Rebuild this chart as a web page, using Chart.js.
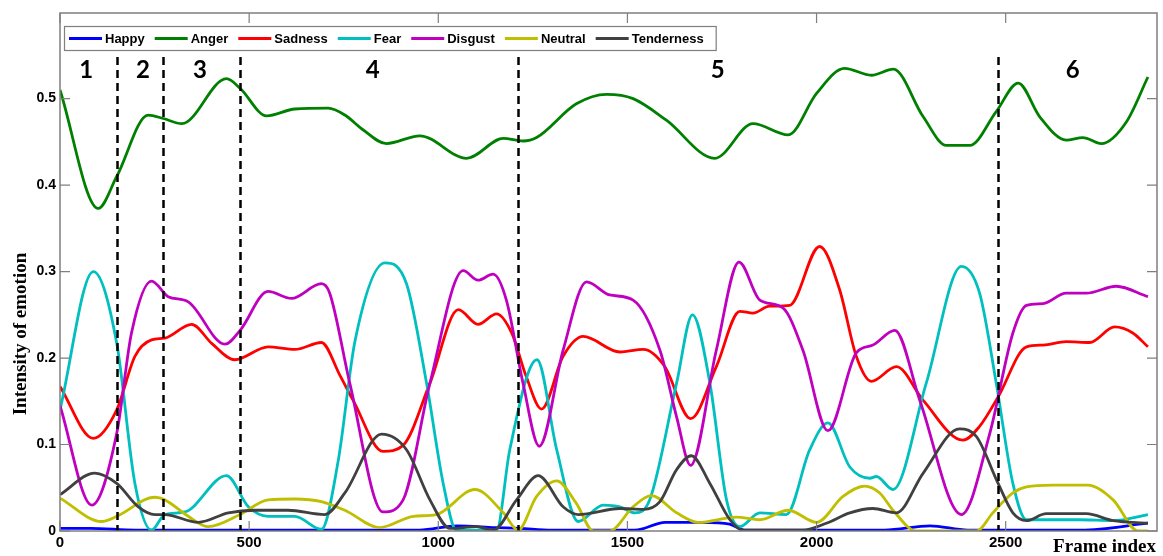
<!DOCTYPE html>
<html>
<head>
<meta charset="utf-8">
<script src="https://cdn.jsdelivr.net/npm/chart.js@4.4.1/dist/chart.umd.min.js"></script>
<style>
  html, body { margin: 0; padding: 0; background: #ffffff; }
  #wrap { width: 1163px; height: 556px; }
</style>
</head>
<body>
<div id="wrap"><canvas id="emotionChart" width="1163" height="556"></canvas></div>
<script>
// Emotion intensity per frame

const happyX = [0, 80, 200, 950, 1050, 1150, 1215, 1300, 1520, 1600, 1700, 1770, 1810, 2180, 2300, 2400, 2700, 2876];
const happyY = [0.003, 0.003, 0.001, 0.001, 0.006, 0.004, 0.003, 0.001, 0.001, 0.010, 0.010, 0.008, 0.001, 0.001, 0.006, 0.001, 0.001, 0.009];

const angerX = [0, 101, 150, 233, 273, 322, 440, 476, 546, 621, 709, 753, 801, 863, 951, 1075, 1172, 1224, 1260, 1365, 1445, 1515, 1603, 1731, 1832, 1925, 2000, 2074, 2145, 2203, 2282, 2343, 2405, 2475, 2533, 2590, 2660, 2704, 2753, 2819, 2876];
const angerY = [0.510, 0.373, 0.410, 0.481, 0.477, 0.471, 0.523, 0.512, 0.480, 0.488, 0.489, 0.481, 0.464, 0.448, 0.457, 0.431, 0.454, 0.451, 0.455, 0.494, 0.505, 0.500, 0.475, 0.431, 0.471, 0.458, 0.506, 0.535, 0.527, 0.534, 0.479, 0.446, 0.446, 0.485, 0.518, 0.479, 0.452, 0.455, 0.448, 0.473, 0.525];

const sadnessX = [0, 88, 150, 198, 242, 277, 348, 401, 462, 550, 621, 691, 740, 775, 854, 907, 978, 1053, 1105, 1154, 1194, 1233, 1273, 1330, 1383, 1480, 1542, 1599, 1667, 1735, 1797, 1832, 1876, 1929, 2008, 2061, 2105, 2145, 2211, 2282, 2387, 2431, 2480, 2555, 2599, 2660, 2722, 2788, 2836, 2876];
const sadnessY = [0.167, 0.107, 0.140, 0.202, 0.221, 0.223, 0.239, 0.217, 0.198, 0.213, 0.210, 0.218, 0.180, 0.151, 0.092, 0.099, 0.171, 0.256, 0.239, 0.251, 0.229, 0.178, 0.141, 0.202, 0.225, 0.207, 0.210, 0.190, 0.130, 0.190, 0.254, 0.252, 0.260, 0.261, 0.329, 0.279, 0.202, 0.173, 0.190, 0.151, 0.105, 0.121, 0.155, 0.213, 0.215, 0.219, 0.218, 0.236, 0.229, 0.213];

const fearX = [0, 88, 150, 198, 242, 277, 330, 440, 498, 550, 621, 691, 735, 780, 859, 916, 969, 1013, 1048, 1154, 1189, 1261, 1313, 1370, 1436, 1480, 1520, 1559, 1630, 1672, 1718, 1762, 1797, 1850, 1920, 1982, 2030, 2088, 2141, 2158, 2202, 2290, 2383, 2431, 2475, 2519, 2555, 2695, 2784, 2876];
const fearY = [0.140, 0.300, 0.217, 0.055, 0.001, 0.019, 0.022, 0.064, 0.028, 0.017, 0.017, 0.002, 0.080, 0.220, 0.310, 0.286, 0.171, 0.055, 0.001, 0.001, 0.094, 0.198, 0.094, 0.011, 0.030, 0.028, 0.021, 0.036, 0.171, 0.250, 0.171, 0.036, 0.005, 0.021, 0.019, 0.094, 0.125, 0.074, 0.061, 0.063, 0.048, 0.171, 0.306, 0.275, 0.171, 0.055, 0.013, 0.013, 0.012, 0.019];

const disgustX = [0, 84, 150, 189, 242, 286, 339, 436, 476, 550, 612, 691, 713, 766, 854, 907, 978, 1066, 1105, 1145, 1180, 1224, 1267, 1330, 1392, 1453, 1515, 1586, 1630, 1667, 1735, 1795, 1850, 1911, 1964, 2030, 2105, 2149, 2207, 2273, 2383, 2458, 2519, 2555, 2599, 2660, 2713, 2792, 2876];
const disgustY = [0.145, 0.030, 0.113, 0.229, 0.289, 0.271, 0.265, 0.216, 0.232, 0.277, 0.269, 0.286, 0.275, 0.171, 0.022, 0.036, 0.171, 0.301, 0.290, 0.297, 0.267, 0.171, 0.098, 0.209, 0.288, 0.273, 0.267, 0.209, 0.132, 0.076, 0.209, 0.311, 0.267, 0.258, 0.209, 0.116, 0.206, 0.215, 0.232, 0.151, 0.019, 0.113, 0.229, 0.261, 0.263, 0.275, 0.275, 0.283, 0.271];

const neutralX = [0, 110, 150, 251, 277, 339, 392, 476, 550, 621, 691, 753, 846, 934, 995, 1097, 1172, 1211, 1260, 1313, 1365, 1410, 1453, 1515, 1563, 1630, 1687, 1788, 1850, 1925, 2000, 2070, 2127, 2167, 2202, 2264, 2423, 2466, 2519, 2555, 2625, 2717, 2784, 2850, 2876];
const neutralY = [0.038, 0.011, 0.017, 0.039, 0.036, 0.017, 0.005, 0.019, 0.036, 0.037, 0.034, 0.024, 0.004, 0.017, 0.019, 0.048, 0.021, 0.001, 0.040, 0.058, 0.032, 0.000, 0.000, 0.028, 0.041, 0.021, 0.010, 0.016, 0.013, 0.024, 0.010, 0.040, 0.052, 0.044, 0.024, 0.000, 0.000, 0.021, 0.044, 0.051, 0.053, 0.053, 0.036, 0.000, 0.000];

const tenderX = [0, 92, 150, 207, 251, 277, 366, 445, 515, 603, 700, 753, 850, 916, 978, 1031, 1101, 1145, 1207, 1264, 1330, 1370, 1480, 1542, 1586, 1630, 1669, 1718, 1771, 1806, 1964, 2026, 2088, 2149, 2211, 2282, 2378, 2423, 2480, 2519, 2555, 2607, 2713, 2784, 2876];
const tenderY = [0.042, 0.067, 0.055, 0.028, 0.019, 0.019, 0.010, 0.021, 0.024, 0.024, 0.019, 0.044, 0.112, 0.094, 0.036, 0.003, 0.005, 0.001, 0.036, 0.064, 0.028, 0.019, 0.026, 0.025, 0.034, 0.071, 0.087, 0.055, 0.013, 0.001, 0.001, 0.009, 0.021, 0.026, 0.021, 0.067, 0.118, 0.109, 0.055, 0.021, 0.012, 0.020, 0.020, 0.012, 0.009];

const seriesNames = ['Happy', 'Anger', 'Sadness', 'Fear', 'Disgust', 'Neutral', 'Tenderness'];
const seriesColors = ['#0000ff', '#008000', '#ff0000', '#00bfbf', '#bf00bf', '#bfbf00', '#404040'];
const seriesX = [happyX, angerX, sadnessX, fearX, disgustX, neutralX, tenderX];
const seriesY = [happyY, angerY, sadnessY, fearY, disgustY, neutralY, tenderY];

const xTicks = [0, 500, 1000, 1500, 2000, 2500];
const yTicks = [0, 0.1, 0.2, 0.3, 0.4, 0.5];

// segment boundaries (frames) and segment numbers
const segmentBounds = [151, 272, 476, 1210, 2479];
const segmentLabels = ['1', '2', '3', '4', '5', '6'];
const segmentCenters = [69, 219, 370, 827, 1739, 2677];

const AXIS_GRAY = '#7f7f7f';
const TICK_FONT = 'bold 14px "Liberation Sans", Arial, sans-serif';

function toPoints(xs, ys) {
    return xs.map(function(x, i) { return { x: x, y: ys[i] }; });
}

const figureDecor = {
    id: 'figureDecor',
    afterDatasetsDraw: function(chart) {
        const ctx = chart.ctx;
        const xs = chart.scales.x;
        const ys = chart.scales.y;

        // dashed segment boundaries
        ctx.save();
        ctx.strokeStyle = '#000000';
        ctx.lineWidth = 2.5;
        ctx.setLineDash([8, 5]);
        segmentBounds.forEach(function(f) {
            const px = Math.round(xs.getPixelForValue(f)) + 0.5;
            ctx.beginPath();
            ctx.moveTo(px, ys.getPixelForValue(0.548));
            ctx.lineTo(px, ys.getPixelForValue(0));
            ctx.stroke();
        });
        ctx.restore();

        // segment numbers
        ctx.save();
        ctx.fillStyle = '#000000';
        ctx.font = 'bold 24px Lato, "Open Sans", sans-serif';
        ctx.textAlign = 'center';
        ctx.textBaseline = 'middle';
        segmentLabels.forEach(function(lbl, i) {
            ctx.fillText(lbl, xs.getPixelForValue(segmentCenters[i]), ys.getPixelForValue(0.533));
        });
        ctx.restore();
    },
    afterDraw: function(chart) {
        const ctx = chart.ctx;
        const area = chart.chartArea;
        const xs = chart.scales.x;
        const ys = chart.scales.y;
        const tickLen = 10;

        // box around the axes with inward ticks on all four sides
        ctx.save();
        ctx.strokeStyle = AXIS_GRAY;
        ctx.lineWidth = 1.5;
        ctx.strokeRect(area.left, area.top, area.right - area.left, area.bottom - area.top);
        ctx.lineWidth = 1.2;
        xTicks.forEach(function(v) {
            const px = xs.getPixelForValue(v);
            ctx.beginPath();
            ctx.moveTo(px, area.bottom);
            ctx.lineTo(px, area.bottom - tickLen);
            ctx.moveTo(px, area.top);
            ctx.lineTo(px, area.top + tickLen);
            ctx.stroke();
        });
        yTicks.forEach(function(v) {
            const py = ys.getPixelForValue(v);
            ctx.beginPath();
            ctx.moveTo(area.left, py);
            ctx.lineTo(area.left + tickLen, py);
            ctx.moveTo(area.right, py);
            ctx.lineTo(area.right - tickLen, py);
            ctx.stroke();
        });
        ctx.restore();

        // legend box inside the axes
        ctx.save();
        ctx.font = 'bold 13px "Liberation Sans", Arial, sans-serif';
        ctx.textBaseline = 'middle';
        const boxLeft = 64, boxTop = 26, boxH = 24;
        const lineLen = 33, gapText = 3, gapItem = 10;
        let x = boxLeft + 5;
        const items = [];
        seriesNames.forEach(function(name, i) {
            items.push({ x: x, name: name, color: seriesColors[i] });
            x += lineLen + gapText + ctx.measureText(name).width + gapItem;
        });
        const boxRight = x - gapItem + 12;
        ctx.fillStyle = '#ffffff';
        ctx.fillRect(boxLeft, boxTop, boxRight - boxLeft, boxH);
        ctx.strokeStyle = AXIS_GRAY;
        ctx.lineWidth = 1.2;
        ctx.strokeRect(boxLeft + 0.5, boxTop + 0.5, boxRight - boxLeft, boxH);
        const cy = boxTop + boxH / 2 + 0.5;
        items.forEach(function(it) {
            ctx.strokeStyle = it.color;
            ctx.lineWidth = 3;
            ctx.beginPath();
            ctx.moveTo(it.x, cy);
            ctx.lineTo(it.x + lineLen, cy);
            ctx.stroke();
            ctx.fillStyle = '#000000';
            ctx.fillText(it.name, it.x + lineLen + gapText, cy + 1);
        });
        ctx.restore();

        // axis titles
        ctx.save();
        ctx.fillStyle = '#000000';
        ctx.font = 'bold 19px "Liberation Serif", "Times New Roman", serif';
        ctx.textAlign = 'right';
        ctx.textBaseline = 'alphabetic';
        ctx.fillText('Frame index', area.right - 1, 552);
        ctx.translate(21, 334);
        ctx.rotate(-Math.PI / 2);
        ctx.textAlign = 'center';
        ctx.textBaseline = 'middle';
        ctx.fillText('Intensity of emotion', 0, 0);
        ctx.restore();
    }
};

const datasets = seriesNames.map(function(name, i) {
    return {
        label: name,
        data: toPoints(seriesX[i], seriesY[i]),
        borderColor: seriesColors[i],
        backgroundColor: seriesColors[i],
        borderWidth: 2.8,
        pointRadius: 0,
        fill: false,
        cubicInterpolationMode: 'monotone',
        order: seriesNames.length - i
    };
});

new Chart(document.getElementById('emotionChart').getContext('2d'), {
    type: 'line',
    data: { datasets: datasets },
    options: {
        responsive: false,
        animation: false,
        events: [],
        layout: { padding: { top: 13, right: 6, left: 0, bottom: 0 } },
        scales: {
            x: {
                type: 'linear',
                min: 0,
                max: 2900,
                grid: { display: false, drawTicks: false },
                border: { display: false },
                afterBuildTicks: function(scale) {
                    scale.ticks = xTicks.map(function(v) { return { value: v }; });
                },
                afterFit: function(scale) { scale.height = 25; },
                ticks: {
                    color: '#000000',
                    padding: 3,
                    maxRotation: 0,
                    font: { family: '"Liberation Sans", Arial, sans-serif', size: 15, weight: 'bold' },
                    callback: function(value) { return String(value); }
                }
            },
            y: {
                min: 0,
                max: 0.599,
                grid: { display: false, drawTicks: false },
                border: { display: false },
                afterBuildTicks: function(scale) {
                    scale.ticks = yTicks.map(function(v) { return { value: v }; });
                },
                afterFit: function(scale) { scale.width = 60; },
                ticks: {
                    color: '#000000',
                    padding: 4,
                    font: { family: '"Liberation Sans", Arial, sans-serif', size: 14, weight: 'bold' },
                    callback: function(value) { return String(Math.round(value * 10) / 10); }
                }
            }
        },
        plugins: {
            legend: { display: false },
            tooltip: { enabled: false }
        }
    },
    plugins: [figureDecor]
});
</script>
</body>
</html>
